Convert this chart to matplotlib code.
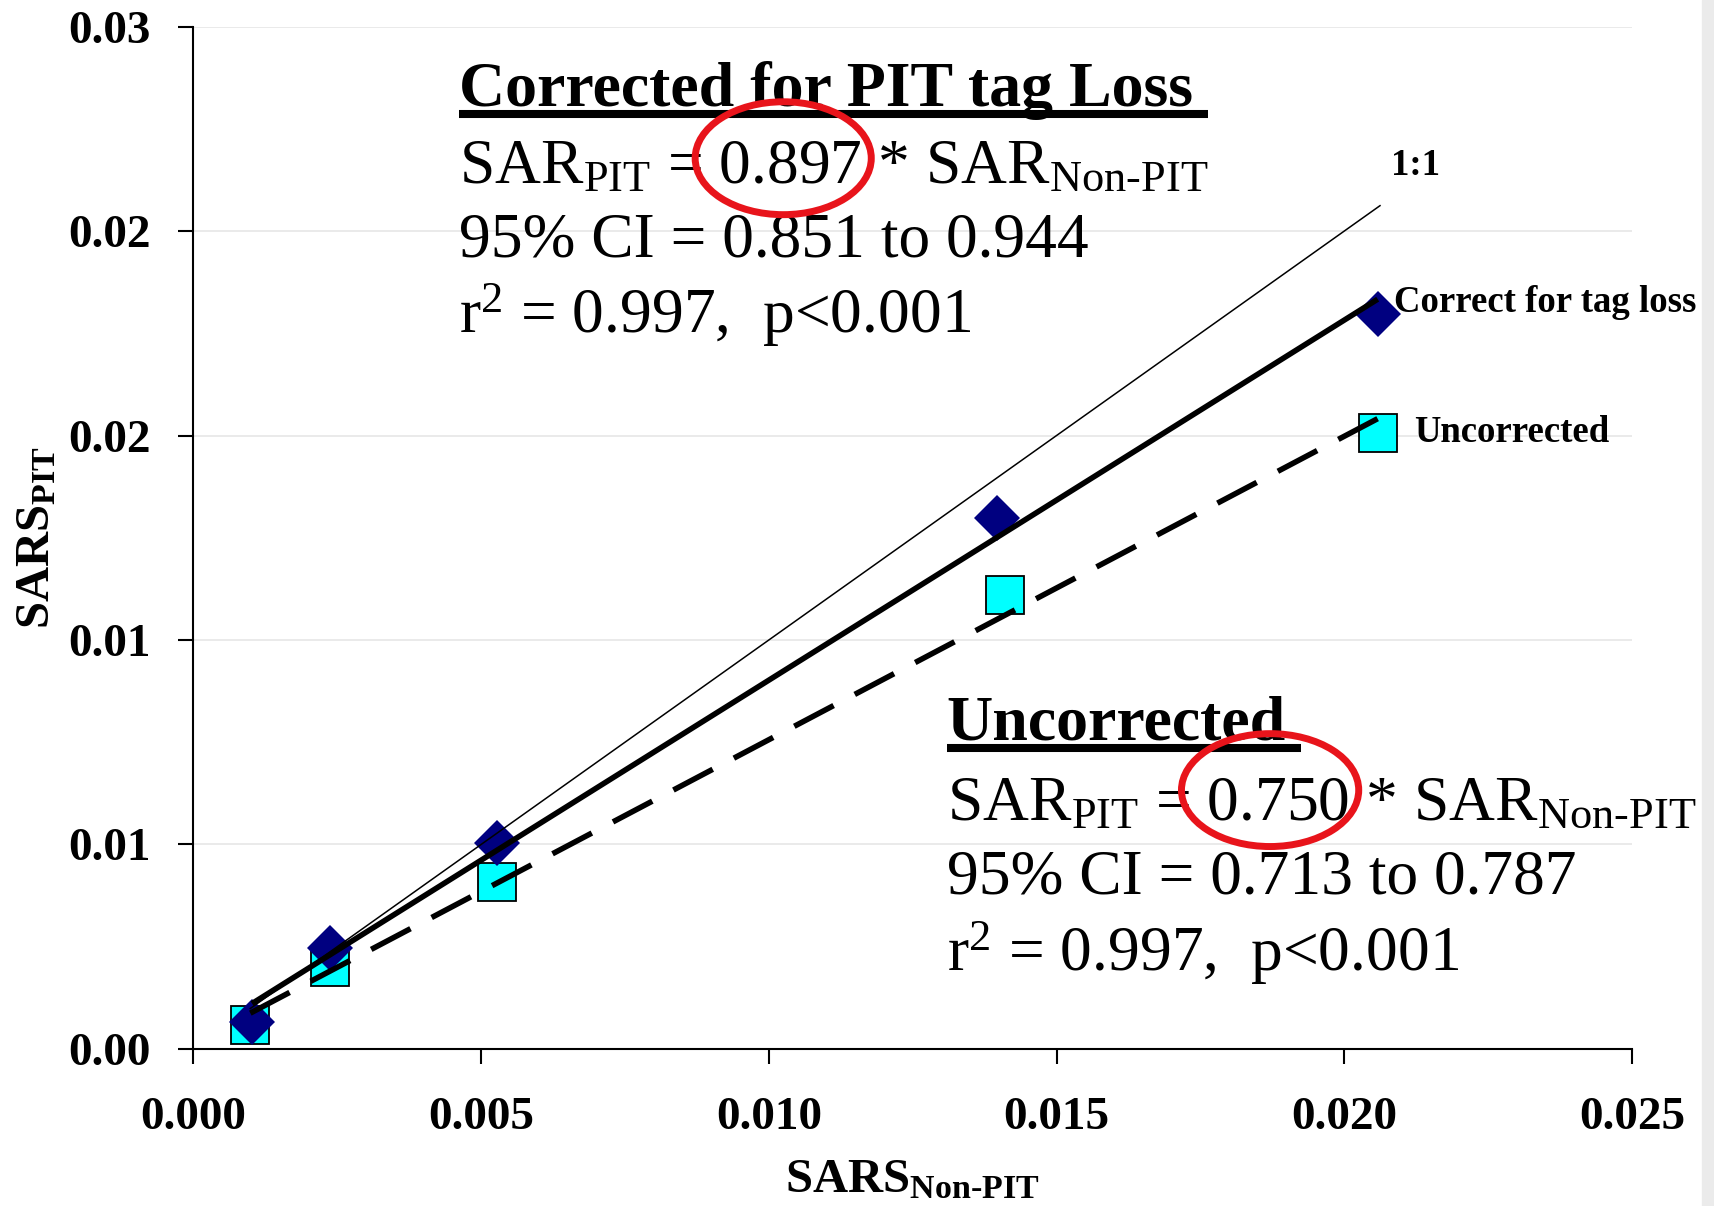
import numpy as np
import matplotlib
matplotlib.use('Agg')
import matplotlib.pyplot as plt
from matplotlib.patches import Ellipse, Rectangle
from matplotlib.lines import Line2D

plt.rcParams['font.family'] = 'Liberation Serif'
plt.rcParams['mathtext.fontset'] = 'custom'
plt.rcParams['mathtext.rm'] = 'Liberation Serif'
plt.rcParams['mathtext.it'] = 'Liberation Serif:italic'
plt.rcParams['mathtext.bf'] = 'Liberation Serif:bold'

# SAR estimates (x = non-PIT group, y = PIT group)
x_corr = [0.00102, 0.00238, 0.00527, 0.01396, 0.02058]
y_corr = [0.00067, 0.00246, 0.00503, 0.01298, 0.01797]
x_unc = [0.00099, 0.00238, 0.00527, 0.01411, 0.02058]
y_unc = [0.00059, 0.00201, 0.00409, 0.01110, 0.01507]

x_ticks = [0, 0.005, 0.010, 0.015, 0.020, 0.025]
x_tick_labels = ['0.000', '0.005', '0.010', '0.015', '0.020', '0.025']
y_ticks = [0, 0.005, 0.010, 0.015, 0.020, 0.025]
y_tick_labels = ['0.00', '0.01', '0.01', '0.02', '0.02', '0.03']

corr_text = ['SAR$_{\\mathrm{PIT}}$ = 0.897 * SAR$_{\\mathrm{Non\\text{-}PIT}}$',
             '95% CI = 0.851 to 0.944',
             'r$^{2}$ = 0.997,  p<0.001']
unc_text = ['SAR$_{\\mathrm{PIT}}$ = 0.750 * SAR$_{\\mathrm{Non\\text{-}PIT}}$',
            '95% CI = 0.713 to 0.787',
            'r$^{2}$ = 0.997,  p<0.001']

fig = plt.figure(figsize=(17.14, 12.06), dpi=100)
ax = fig.add_axes([0.1128, 0.1302, 0.8394, 0.8478])
fig.add_artist(Rectangle((0.993, 0), 0.007, 1, transform=fig.transFigure,
                         color='#ebebeb', zorder=0))

ax.plot(x_unc, y_unc, ls='none', marker='s', ms=28, mfc='#00ffff',
        mec='black', mew=1.3, zorder=3)
ax.plot(x_corr, y_corr, ls='none', marker='D', ms=23, mfc='#000080',
        mec='#000080', mew=0, zorder=4)

# regression lines
b1, a1 = np.polyfit(x_corr, y_corr, 1)
xs1 = np.array([min(x_corr), max(x_corr)])
ax.plot(xs1, a1 + b1 * xs1, color='black', lw=4, zorder=5,
        solid_capstyle='butt')
b2, a2 = np.polyfit(x_unc, y_unc, 1)
xs2 = np.array([min(x_unc), max(x_unc)])
ax.plot(xs2, a2 + b2 * xs2, color='black', lw=4, zorder=5,
        dashes=(8, 4.3), dash_capstyle='butt')
# 1:1 line
lo = min(x_corr + x_unc)
hi = max(x_corr + x_unc) + 0.00004
ax.plot([lo, hi], [lo, hi], color='black', lw=1.1, zorder=5)

ax.set_xlim(0, 0.025)
ax.set_ylim(0, 0.025)
ax.set_xticks(x_ticks, x_tick_labels, fontsize=34, fontweight='bold')
ax.set_yticks(y_ticks, y_tick_labels, fontsize=34, fontweight='bold')
ax.tick_params(direction='out', length=10.8, width=1.5, color='black')
ax.tick_params(axis='x', pad=24)
ax.tick_params(axis='y', pad=20)
for s in ['top', 'right']:
    ax.spines[s].set_visible(False)
for s in ['left', 'bottom']:
    ax.spines[s].set_linewidth(1.5)
ax.yaxis.grid(True, color='#e6e6e6', lw=1.2)
ax.set_axisbelow(True)

ax.set_xlabel('SARS$_{\\mathbf{Non\\text{-}PIT}}$', fontsize=35,
              fontweight='bold', labelpad=14)
ax.set_ylabel('SARS$_{\\mathbf{PIT}}$', fontsize=35, fontweight='bold',
              labelpad=6)

# text blocks
t1 = ax.text(0.00462, 0.02306, 'Corrected for PIT tag Loss', fontsize=46,
             fontweight='bold', va='baseline', ha='left')
for i, s in enumerate(corr_text):
    ax.text(0.00462, [0.02116, 0.01937, 0.01750][i], s, fontsize=45.7,
            va='baseline', ha='left')
t2 = ax.text(0.01309, 0.007555, 'Uncorrected', fontsize=46,
             fontweight='bold', va='baseline', ha='left')
for i, s in enumerate(unc_text):
    ax.text(0.01309, [0.00560, 0.00381, 0.00191][i], s, fontsize=45.7,
            va='baseline', ha='left')

ax.add_patch(Ellipse((0.01025, 0.02178), 0.00306, 0.00276, fill=False,
                     ec='#e8141b', lw=5, zorder=6))
ax.add_patch(Ellipse((0.01871, 0.00633), 0.00308, 0.00276, fill=False,
                     ec='#e8141b', lw=5, zorder=6))

# point labels
ax.annotate('1:1', (hi, hi), xytext=(8, 29), textcoords='offset points',
            fontsize=26.5, fontweight='bold', va='center', ha='left')
ax.annotate('Correct for tag loss', (x_corr[-1], y_corr[-1]), xytext=(12, 8),
            textcoords='offset points', fontsize=26.5, fontweight='bold',
            va='center', ha='left', annotation_clip=False)
ax.annotate('Uncorrected', (x_unc[-1], y_unc[-1]), xytext=(26, 0),
            textcoords='offset points', fontsize=26.5, fontweight='bold',
            va='center', ha='left')

# underline the two headings
fig.canvas.draw()
inv = ax.transAxes.inverted()
for t, yb in [(t1, 0.02306), (t2, 0.007555)]:
    bb = t.get_window_extent()
    base = ax.transData.transform((0, yb))[1]
    p0 = inv.transform((bb.x0, base - 8))
    p1 = inv.transform((bb.x1 + 15, base - 8))
    ax.add_line(Line2D([p0[0], p1[0]], [p0[1], p1[1]], transform=ax.transAxes,
                       color='black', lw=5.8, clip_on=False,
                       solid_capstyle='butt'))

fig.savefig('out.png', dpi=100)
